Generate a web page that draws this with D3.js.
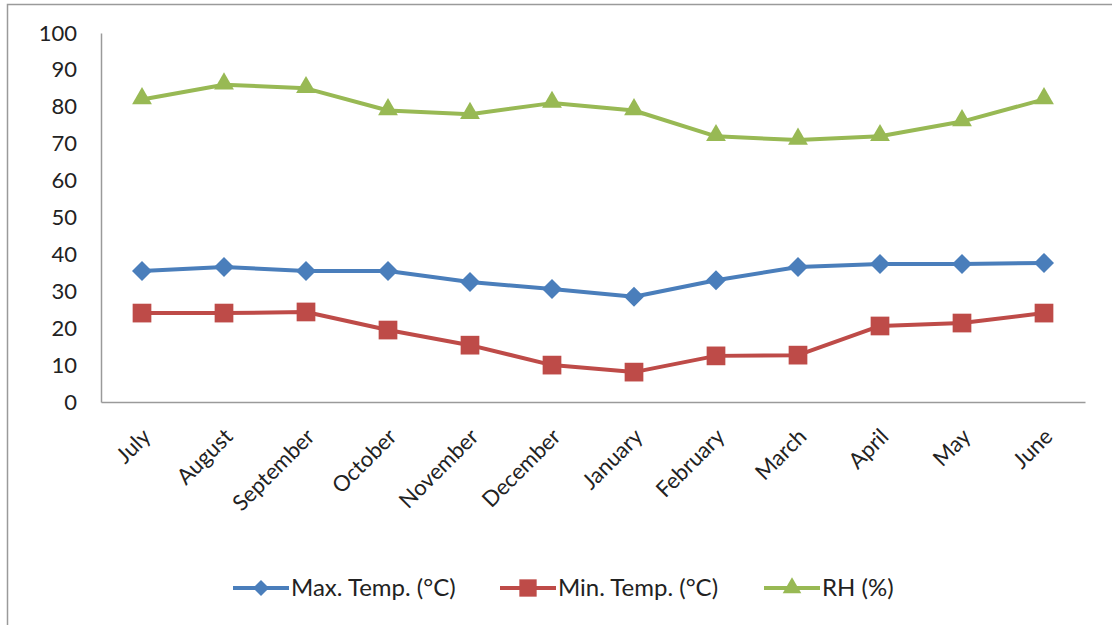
<!DOCTYPE html>
<html><head><meta charset="utf-8">
<script src="https://cdn.jsdelivr.net/npm/d3@7"></script>
<style>body{margin:0;background:#fff}svg{display:block}</style>
</head><body>
<script>
const months = ["July","August","September","October","November","December","January","February","March","April","May","June"];
const maxTemp = [35.5,36.6,35.5,35.5,32.5,30.6,28.5,33.0,36.6,37.4,37.4,37.7];
const minTemp = [24.1,24.1,24.4,19.5,15.4,10.0,8.1,12.5,12.7,20.6,21.4,24.1];
const rh = [82,86,85,79,78,81,79,72,71,72,76,82];
const yTicks = [0,10,20,30,40,50,60,70,80,90,100];
const seriesNames = ["Max. Temp. (°C)","Min. Temp. (°C)","RH (%)"];

const W=1112,H=625;
const svg=d3.select("body").append("svg").attr("width",W).attr("height",H);
const font="Lato, 'Open Sans', sans-serif";
svg.append("path").attr("d",`M7.5,${H} V4.5 H${W}`).attr("fill","none").attr("stroke","#9a9a9a").attr("stroke-width",1.5);

const x=d3.scaleBand().domain(months).range([101,1085]);
const y=d3.scaleLinear().domain([0,100]).range([402,33]);

const yAxis=svg.append("g").attr("transform","translate(101,0)")
  .call(d3.axisLeft(y).tickValues(yTicks).tickSize(0).tickPadding(24));
yAxis.select(".domain").attr("stroke","#9a9a9a").attr("stroke-width",1.5);
yAxis.selectAll("text").attr("font-family",font).attr("font-size",22).attr("fill","#222");

const xAxis=svg.append("g").attr("transform","translate(0,402)")
  .call(d3.axisBottom(x).tickSize(0).tickSizeOuter(0));
xAxis.select(".domain").attr("stroke","#9a9a9a").attr("stroke-width",1.5);
xAxis.selectAll("text").attr("font-family",font).attr("font-size",22).attr("fill","#222")
  .attr("text-anchor","end").attr("dy",0).attr("y",0)
  .attr("transform","translate(10,36) rotate(-45)");

// custom wide diamond
const diamond={draw(ctx,size){const r=Math.sqrt(size)/2*1.0;ctx.moveTo(0,-r);ctx.lineTo(r,0);ctx.lineTo(0,r);ctx.lineTo(-r,0);ctx.closePath();}};
const series=[
  {name:seriesNames[0],vals:maxTemp,color:"#4a7ebb",sym:diamond,size:400,lsize:260},
  {name:seriesNames[1],vals:minTemp,color:"#be4b48",sym:d3.symbolSquare,size:350,lsize:300},
  {name:seriesNames[2],vals:rh,color:"#98b954",sym:d3.symbolTriangle,size:170,lsize:150}
];
const cx=d=>x(d)+x.bandwidth()/2;
series.forEach(s=>{
  const line=d3.line().x((v,i)=>cx(months[i])).y(v=>y(v));
  svg.append("path").datum(s.vals).attr("d",line).attr("fill","none")
    .attr("stroke",s.color).attr("stroke-width",4).attr("stroke-linejoin","round");
  svg.append("g").selectAll("path").data(s.vals).join("path")
    .attr("d",d3.symbol().type(s.sym).size(s.size))
    .attr("transform",(v,i)=>`translate(${cx(months[i])},${y(v) - (s.sym===d3.symbolTriangle?1:0)})`)
    .attr("fill",s.color);
});

const legX=[233,500,764];
series.forEach((s,i)=>{
  const g=svg.append("g").attr("transform",`translate(${legX[i]},588)`);
  g.append("line").attr("x1",0).attr("x2",56).attr("stroke",s.color).attr("stroke-width",4);
  g.append("path").attr("d",d3.symbol().type(s.sym).size(s.lsize)).attr("transform","translate(28,0)").attr("fill",s.color);
  g.append("text").attr("x",58).attr("y",8).attr("font-family",font).attr("font-size",24).attr("fill","#222").text(s.name);
});
</script>
</body></html>
